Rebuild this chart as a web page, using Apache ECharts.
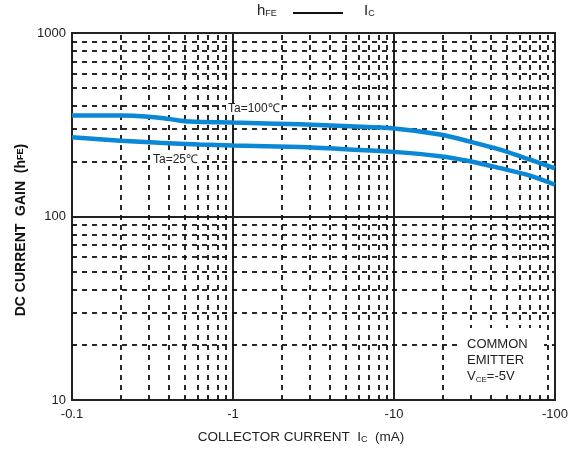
<!DOCTYPE html>
<html><head><meta charset="utf-8">
<script src="https://cdn.jsdelivr.net/npm/echarts@6/dist/echarts.min.js"></script>
<style>html,body{margin:0;padding:0;background:#fff}#c{width:577px;height:451px}</style>
</head><body><div id="c"></div>
<script>
// Collector current magnitude (mA) — axis labels show negative sign
var icTa100 = [0.1, 0.2, 0.3, 0.4, 0.54, 1, 2.6, 5.3, 10, 19.3, 29.6, 45, 70, 100];
var hfeTa100 = [355, 355, 350, 340, 329, 325, 318, 310, 302, 280, 256, 232, 204, 183];
var icTa25 = [0.1, 0.2, 0.35, 0.62, 1, 2.6, 5.3, 10, 19.3, 29.6, 45, 70, 100];
var hfeTa25 = [270, 259, 252, 247, 244, 239, 232, 225, 213, 200, 184, 167, 149];
var xTickLabels = {0.1: '-0.1', 1: '-1', 10: '-10', 100: '-100'};
var yTickLabels = {10: '10', 100: '100', 1000: '1000'};
var xMinor = [0.2,0.3,0.4,0.5,0.6,0.7,0.8,0.9,2,3,4,5,6,7,8,9,20,30,40,50,60,70,80,90];
var yMinor = [20,30,40,50,60,70,80,90,200,300,400,500,600,700,800,900];

function pairs(xs, ys){ return xs.map(function(x,i){ return [x, ys[i]]; }); }

var chart = echarts.init(document.getElementById('c'));
var font = 'Liberation Sans, Arial, sans-serif';
var gridLineStyle = {type: [5,5], color: '#111', width: 1.8};

var markData = xMinor.map(function(v){ return {xAxis: v}; })
  .concat(yMinor.map(function(v){ return {yAxis: v}; }));

chart.setOption({
  animation: false,
  grid: {left: 72, right: 22, top: 33, bottom: 51, show: true, borderColor: '#222', borderWidth: 2},
  xAxis: {
    type: 'log', logBase: 10, min: 0.1, max: 100,
    axisLine: {show: true, lineStyle: {color: '#222', width: 2}},
    axisTick: {show: false},
    splitLine: {show: true, lineStyle: {color: '#222', width: 2, type: 'solid'}},
    axisLabel: {color: '#222', fontFamily: font, fontSize: 13, margin: 8,
      formatter: function(v){ return xTickLabels[Math.round(v*10)/10] || ''; }}
  },
  yAxis: {
    type: 'log', logBase: 10, min: 10, max: 1000,
    axisLine: {show: true, lineStyle: {color: '#222', width: 2}},
    axisTick: {show: false},
    splitLine: {show: true, lineStyle: {color: '#222', width: 2, type: 'solid'}},
    axisLabel: {color: '#222', fontFamily: font, fontSize: 13, margin: 6,
      formatter: function(v){ return yTickLabels[Math.round(v)] || ''; }}
  },
  series: [
    {type: 'line', data: [], silent: true,
     markLine: {silent: true, symbol: 'none', label: {show: false}, lineStyle: gridLineStyle, data: markData}},
    {type: 'line', name: 'Ta=100', data: pairs(icTa100, hfeTa100), smooth: 0.3,
     showSymbol: false, lineStyle: {color: '#0a88d6', width: 4.5}, z: 5},
    {type: 'line', name: 'Ta=25', data: pairs(icTa25, hfeTa25), smooth: 0.3,
     showSymbol: false, lineStyle: {color: '#0a88d6', width: 4.5}, z: 5}
  ],
  graphic: [
    {type: 'text', left: 257, top: 3, style: {text: 'h{s|FE}', fill: '#222', font: '15px ' + font,
      rich: {s: {fontSize: 9, fontFamily: font, fill: '#222', verticalAlign: 'bottom'}}}},
    {type: 'line', shape: {x1: 293, y1: 13, x2: 343, y2: 13}, style: {stroke: '#111', lineWidth: 2}},
    {type: 'text', left: 364, top: 3, style: {text: 'I{s|C}', fill: '#222', font: '15px ' + font,
      rich: {s: {fontSize: 9, fontFamily: font, fill: '#222', verticalAlign: 'bottom'}}}},
    {type: 'text', x: 301, y: 437, style: {text: 'COLLECTOR CURRENT  I{s|C}  (mA)', fill: '#222',
      font: '13.5px ' + font, align: 'center', verticalAlign: 'middle',
      rich: {s: {fontSize: 9, fontFamily: font, fill: '#222', verticalAlign: 'bottom'}}}},
    {type: 'text', x: 21, y: 230, rotation: Math.PI / 2, style: {text: 'DC CURRENT  GAIN  (h{s|FE})', fill: '#111',
      font: 'bold 14px ' + font, align: 'center', verticalAlign: 'middle',
      rich: {s: {fontSize: 9, fontWeight: 'bold', fontFamily: font, fill: '#111'}}}},
    {type: 'text', left: 226, top: 103, z: 10, style: {text: 'Ta=100\u2103', fill: '#222', font: '12px ' + font,
      backgroundColor: '#fff', padding: [0, 2]}},
    {type: 'text', left: 151, top: 154, z: 10, style: {text: 'Ta=25\u2103', fill: '#222', font: '12px ' + font,
      backgroundColor: '#fff', padding: [0, 2]}},
    {type: 'rect', shape: {x: 458, y: 328, width: 86, height: 66}, style: {fill: '#fff'}, z: 10},
    {type: 'text', left: 467, top: 336, z: 11, style: {text: 'COMMON\nEMITTER\nV{s|CE}=-5V', fill: '#222',
      font: '13px ' + font, lineHeight: 16,
      rich: {s: {fontSize: 8, fontFamily: font, fill: '#222', verticalAlign: 'bottom', lineHeight: 16}}}}
  ]
});
</script></body></html>
